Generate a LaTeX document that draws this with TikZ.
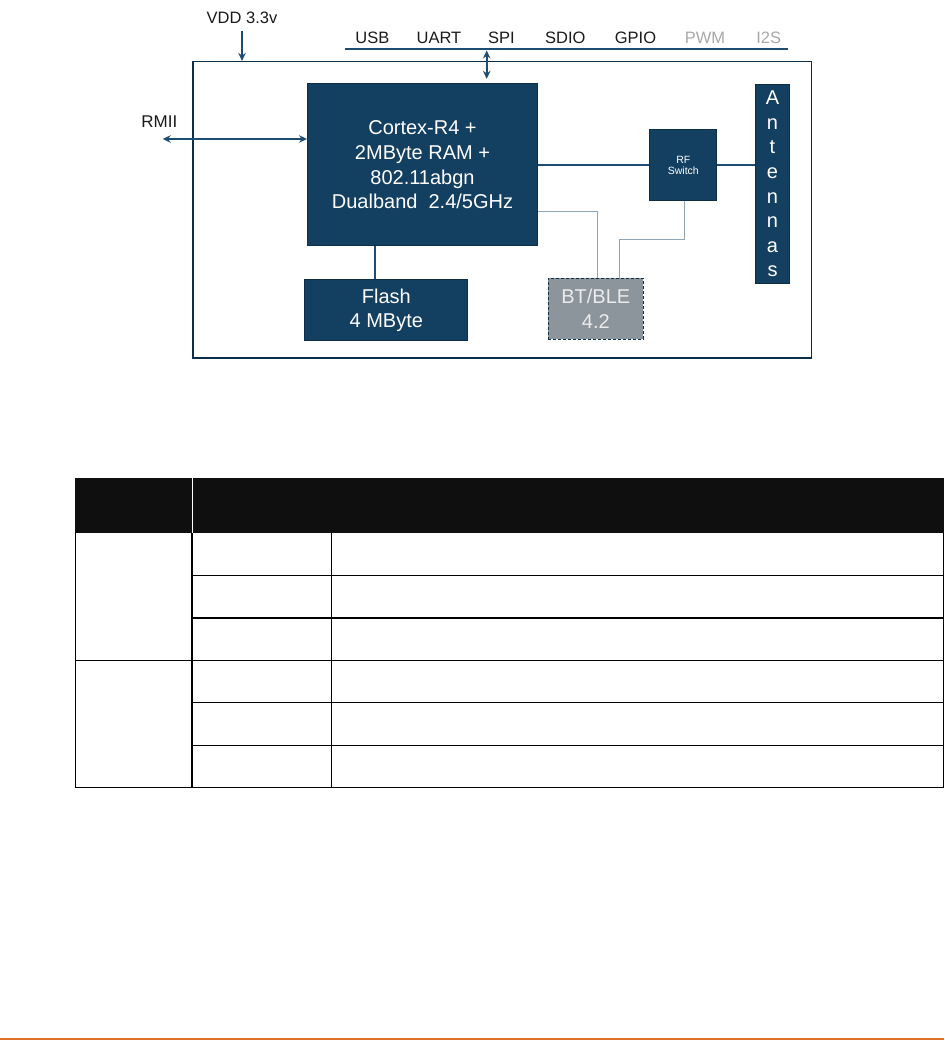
\documentclass[tikz,border=0pt]{standalone}
\usepackage{fontspec}
\setmainfont{Liberation Sans}
\usetikzlibrary{arrows.meta}
\definecolor{navy}{HTML}{133F61}
\definecolor{navyedge}{HTML}{0D2E48}
\definecolor{busblue}{HTML}{1D4D72}
\definecolor{btgrey}{HTML}{8C949C}
\definecolor{wire}{HTML}{8FA4B4}
\definecolor{fadegrey}{HTML}{A8A8A8}
\definecolor{inkgrey}{HTML}{1A1A1A}
\definecolor{footrule}{HTML}{E07028}

\begin{document}
\begin{tikzpicture}[x=1pt, y=-1pt, >={Stealth[length=8pt,width=7.5pt]},
    blk/.style={draw=navyedge, fill=navy, text=white, align=center, inner sep=0pt, line width=1pt},
    big/.style={font=\fontsize{20}{24.7}\selectfont},
    lbl/.style={font=\fontsize{16.5}{19}\selectfont, text=inkgrey, inner sep=0pt},
    link/.style={draw=busblue, line width=2pt},
    wireln/.style={draw=wire, line width=1.2pt},
    gridln/.style={line width=1.4pt}]
  \useasboundingbox (0,0) rectangle (944,1040);
  \node[draw=navyedge, line width=1.6pt, minimum width=618.6pt, minimum height=296pt, inner sep=0pt] (board) at (502,209.7) {};
  \node[blk, big, minimum width=230pt, minimum height=162pt] (cpu) at (422.5,165) {Cortex-R4 +\\2MByte RAM +\\802.11abgn\\Dualband~ 2.4/5GHz};
  \node[blk, big, minimum width=162.7pt, minimum height=60.7pt] (flash) at (386.3,310.3) {Flash\\4 MByte};
  \node[blk, font=\fontsize{10.5}{11.7}\selectfont, minimum width=66.7pt, minimum height=70.7pt] (rf) at (683.3,165.3) {RF\\Switch};
  \node[blk, minimum width=33.6pt, minimum height=199.3pt] (ant) at (772.5,183.7) {};
  \foreach \ch [count=\i from 0] in {A,n,t,e,n,n,a,s}
    \node[big, text=white, anchor=base, inner sep=0pt] (ant\i) at (772.5,104.7+24.6*\i) {\ch};
  \node[draw=navyedge, dashed, dash pattern=on 3pt off 2pt, fill=btgrey, text=white!92!black, big, align=center, inner sep=0pt, line width=1pt, minimum width=95pt, minimum height=61pt] (bt) at (595.8,308.8) {BT/BLE\\4.2};
  \node[lbl] (vdd) at (242,17.8) {VDD 3.3v};
  \node[lbl, font=\fontsize{17}{20}\selectfont] (rmii) at (159.3,121.7) {RMII};
  \foreach \txt/\x/\col in {USB/372.3/inkgrey, UART/439/inkgrey, SPI/501.3/inkgrey, SDIO/565.3/inkgrey, GPIO/635.5/inkgrey, PWM/705/fadegrey, I2S/768.7/fadegrey}
    \node[lbl, anchor=base, text=\col] (\txt) at (\x,43.3) {\txt};
  \coordinate (busL) at (344.7,49.3);
  \coordinate (busR) at (788.3,49.3);
  \coordinate (spitap) at (486.7,50.5);
  \coordinate (rmiiend) at (162.7,139);
  \draw[link] (busL) -- (busR);
  \draw[link, <->] (spitap) -- ([yshift=4.7pt]spitap |- cpu.north);
  \draw[link, ->] ([yshift=-6.7pt]vdd.south) -- (vdd.south |- board.north);
  \draw[link, <->] (rmiiend) -- (rmiiend -| cpu.west);
  \draw[link] ([xshift=-11.3pt]flash.north) -- ([xshift=-11.3pt]flash.north |- cpu.south);
  \draw[link] (rf.west) -- (rf.west -| cpu.east);
  \draw[link] (rf.east) -- (rf.east -| ant.west);
  \draw[wireln] ([yshift=-46.7pt]cpu.east) -| ([xshift=1.5pt]bt.north);
  \draw[wireln] ([xshift=1.4pt]rf.south) -- ++(0,38.3) -| ([xshift=23.5pt]bt.north);
  % table grid
  \fill[black!94] (75.3,478.3) rectangle (943.5,533.3);
  \draw[white, line width=1pt] (192,478.3) -- (192,533.3);
  \foreach \y in {575.3,618,702.3,745.3} \draw[gridln] (192,\y) -- (943.5,\y);
  \foreach \y in {660.3,787.3} \draw[gridln] (75.3,\y) -- (943.5,\y);
  \foreach \x in {75.3,192,331.7,943.5} \draw[gridln] (\x,533.3) -- (\x,787.3);
  \draw[footrule, line width=1.6pt] (0,1039) -- (944,1039);
\end{tikzpicture}
\end{document}
